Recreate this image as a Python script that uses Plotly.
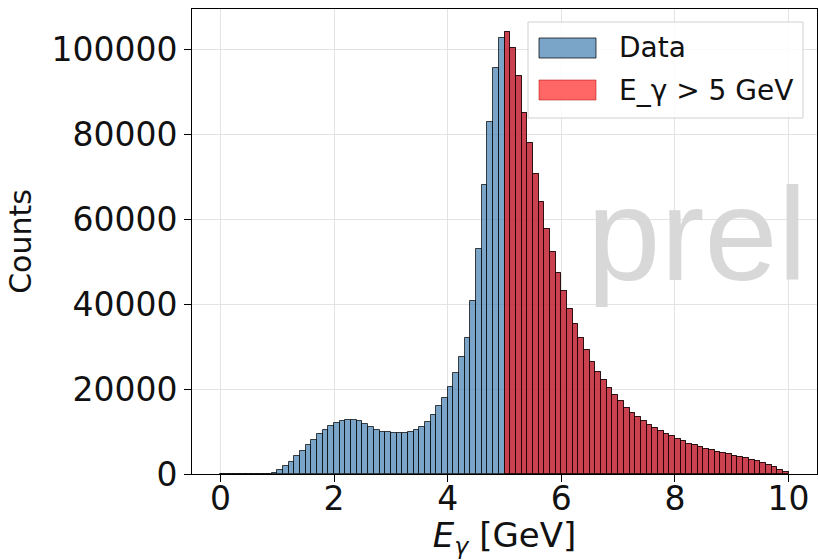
import plotly.graph_objects as go

# ---- data ----
bin_width = 0.1
bin_centers = [round(0.05 + 0.1 * i, 2) for i in range(100)]
counts = [
    0, 0, 0, 0, 0, 0, 0, 0, 80, 350,
    980, 1770, 2790, 4130, 5380, 6720, 8060, 9470, 10410, 11200,
    11990, 12460, 12770, 12770, 12460, 11670, 11040, 10410, 9860, 9790,
    9760, 9760, 9760, 9790, 10260, 11040, 12220, 13950, 15920, 17960,
    20480, 23780, 27550, 32110, 40760, 53100, 68100, 82900, 95500, 102630,
    104200, 100280, 93750, 84950, 77880, 70640, 63960, 57590, 52310, 47220,
    43040, 38960, 35420, 32030, 29130, 26370, 24010, 22050, 20240, 18510,
    17100, 15610, 14340, 13400, 12450, 11600, 10800, 10020, 9480, 9010,
    8300, 7740, 7120, 6720, 6320, 5940, 5540, 5140, 4900, 4600,
    4290, 3960, 3730, 3350, 2950, 2550, 2170, 1600, 990, 420,
]
cut = 5.0
red_centers = [c for c in bin_centers if c > cut]
red_counts = [n for c, n in zip(bin_centers, counts) if c > cut]

x_ticks = [0, 2, 4, 6, 8, 10]
y_ticks = [0, 20000, 40000, 60000, 80000, 100000]
legend_labels = ["Data", "E_γ > 5 GeV"]

blue_fill = "rgba(70,130,180,0.72)"
blue_edge = "rgba(0,0,0,0.72)"
red_fill = "rgba(255,0,0,0.6)"
red_edge = "rgba(0,0,0,0.6)"

fig = go.Figure()
fig.add_trace(go.Bar(x=bin_centers, y=counts, width=bin_width,
                     marker=dict(color=blue_fill, line=dict(color=blue_edge, width=1)),
                     name=legend_labels[0], showlegend=False))
fig.add_trace(go.Bar(x=red_centers, y=red_counts, width=bin_width,
                     marker=dict(color=red_fill, line=dict(color=red_edge, width=1)),
                     name=legend_labels[1], showlegend=False))

W, H = 818, 560
L, R, T, B = 192, 1, 9, 86
pw, ph = W - L - R, H - T - B


def px(xp):
    return (xp - L) / pw


def py(yp):
    return (H - B - yp) / ph


shapes = [
    dict(type="rect", xref="paper", yref="paper", x0=px(528), x1=px(803), y0=py(118), y1=py(22),
         fillcolor="rgba(255,255,255,0.85)", line=dict(color="#d0d0d0", width=1), layer="above"),
    dict(type="rect", xref="paper", yref="paper", x0=px(539), x1=px(596), y0=py(58), y1=py(38),
         fillcolor=blue_fill, line=dict(color=blue_edge, width=1), layer="above"),
    dict(type="rect", xref="paper", yref="paper", x0=px(539), x1=px(596), y0=py(100), y1=py(80),
         fillcolor=red_fill, line=dict(color="rgba(180,0,0,0.5)", width=1), layer="above"),
]

annotations = [
    dict(text="prel", xref="paper", yref="paper", x=px(585), y=py(234), xanchor="left", yanchor="middle",
         showarrow=False, font=dict(family="DejaVu Sans ExtraLight, Liberation Sans, Arial", size=132, color="#d8d8d8")),
    dict(text=legend_labels[0], xref="paper", yref="paper", x=px(617), y=py(47.5), xanchor="left", yanchor="middle",
         showarrow=False, font=dict(family="DejaVu Sans", size=28, color="#111111")),
    dict(text=legend_labels[1], xref="paper", yref="paper", x=px(617), y=py(90), xanchor="left", yanchor="middle",
         showarrow=False, font=dict(family="DejaVu Sans", size=28, color="#111111")),
]

fig.update_layout(
    width=W, height=H,
    margin=dict(l=L, r=R, t=T, b=B, pad=0),
    paper_bgcolor="white", plot_bgcolor="white",
    barmode="overlay", bargap=0,
    font=dict(family="DejaVu Sans", color="#111111"),
    shapes=shapes, annotations=annotations,
    showlegend=False,
)
fig.update_xaxes(
    range=[-0.5, 10.5], tickvals=x_ticks, ticktext=[str(v) for v in x_ticks],
    tickfont=dict(size=33), ticks="outside", ticklen=7, tickcolor="black", tickwidth=1,
    ticklabelstandoff=-12,
    showline=True, linecolor="black", linewidth=1, mirror=True,
    showgrid=True, gridcolor="#e3e3e3", gridwidth=1, zeroline=False,
    title=dict(text="<i>E<sub>γ</sub></i> [GeV]", font=dict(size=34), standoff=6),
)
fig.update_yaxes(
    range=[0, 109500], tickvals=y_ticks, ticktext=[str(v) for v in y_ticks],
    tickfont=dict(size=33), ticks="outside", ticklen=7, tickcolor="black", tickwidth=1,
    showline=True, linecolor="black", linewidth=1, mirror=True,
    showgrid=True, gridcolor="#e3e3e3", gridwidth=1, zeroline=False,
    title=dict(text="Counts", font=dict(size=30), standoff=10),
)

fig.write_html("out.html")
